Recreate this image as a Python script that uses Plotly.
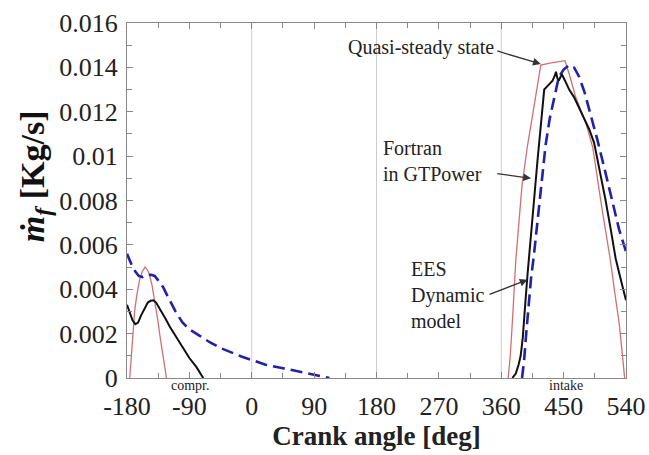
import plotly.graph_objects as go

# ---------------- data ----------------
qs_comp_x = [-176, -174, -172, -169, -166, -162, -158, -154, -151, -148, -144, -140, -136, -132, -128, -125, -123]
qs_comp_y = [0, 0.001, 0.002, 0.003, 0.0037, 0.0044, 0.0048, 0.0050, 0.0049, 0.0047, 0.0042, 0.0035, 0.0027, 0.0018, 0.0009, 0.0003, 0]
qs_int_x = [370, 373, 376, 381, 390, 398, 405, 417, 432, 452, 460, 467, 482, 492, 505, 517, 524, 530, 535, 538]
qs_int_y = [0, 0.001, 0.0025, 0.0053, 0.0087, 0.0105, 0.0118, 0.0141, 0.0142, 0.0143, 0.0135, 0.0127, 0.0115, 0.0104, 0.0077, 0.0054, 0.0038, 0.0025, 0.0010, 0]

ff_comp_x = [-180, -176, -172, -168, -164, -160, -155, -150, -146, -142, -138, -132, -125, -118, -110, -100, -90, -80, -75, -70]
ff_comp_y = [0.0033, 0.0029, 0.0026, 0.00243, 0.0025, 0.0028, 0.0031, 0.0034, 0.00348, 0.0035, 0.0034, 0.0031, 0.0027, 0.0023, 0.0019, 0.0014, 0.0009, 0.0005, 0.00025, 0]
ff_int_x = [376, 381, 385, 388, 391, 393, 395, 398, 402, 407, 412, 417, 422, 428, 434, 437, 439, 441, 443, 446, 448, 452, 458, 465, 472, 480, 487, 494, 502, 510, 518, 525, 532, 540]
ff_int_y = [0, 0.0002, 0.0006, 0.001, 0.0018, 0.0025, 0.0035, 0.0047, 0.0060, 0.0079, 0.0097, 0.0114, 0.0130, 0.0132, 0.0134, 0.0136, 0.0138, 0.0135, 0.0134, 0.0136, 0.01365, 0.0134, 0.0130, 0.01266, 0.0122, 0.0117, 0.0112, 0.0106, 0.0094, 0.0081, 0.0067, 0.0054, 0.0045, 0.0035]

ees_comp_x = [-180, -176, -172, -168, -163, -158, -154, -150, -145, -140, -135, -128, -120, -110, -100, -90, -75, -60, -45, -30, -15, 0, 20, 45, 70, 93, 105, 112]
ees_comp_y = [0.0056, 0.0053, 0.0050, 0.0048, 0.0046, 0.00455, 0.0046, 0.00465, 0.00465, 0.0046, 0.0044, 0.0041, 0.0036, 0.0030, 0.0025, 0.0022, 0.0019, 0.0016, 0.00135, 0.00115, 0.00097, 0.00081, 0.0006, 0.00044, 0.00028, 0.00014, 0.00005, 0]
ees_int_x = [390, 393, 396, 400, 403, 407, 412, 418, 424, 430, 436, 443, 450, 458, 465, 472, 480, 490, 499, 510, 520, 530, 540]
ees_int_y = [0, 0.0008, 0.002, 0.0035, 0.0045, 0.0055, 0.0070, 0.0088, 0.0105, 0.0117, 0.0126, 0.01356, 0.0139, 0.0141, 0.0140, 0.0136, 0.0129, 0.0118, 0.0107, 0.0093, 0.0080, 0.0067, 0.0057]

x_ticks = [-180, -90, 0, 90, 180, 270, 360, 450, 540]
x_tick_text = ["-180", "-90", "0", "90", "180", "270", "360", "450", "540"]
y_ticks = [0, 0.002, 0.004, 0.006, 0.008, 0.01, 0.012, 0.014, 0.016]
y_tick_text = ["0", "0.002", "0.004", "0.006", "0.008", "0.01", "0.012", "0.014", "0.016"]
grid_x = [0, 180, 360]
phase_labels = ["compr.", "intake"]
phase_label_x = [-89, 453]

FONT = "Liberation Serif"
RED = "#d27070"
BLK = "#111111"
BLU = "#2222a8"

fig = go.Figure()
for xs, ys in [(qs_comp_x, qs_comp_y), (qs_int_x, qs_int_y)]:
    fig.add_trace(go.Scatter(x=xs, y=ys, mode="lines", line=dict(color=RED, width=1.3), showlegend=False))
for xs, ys in [(ees_comp_x, ees_comp_y), (ees_int_x, ees_int_y)]:
    fig.add_trace(go.Scatter(x=xs, y=ys, mode="lines", line=dict(color=BLU, width=2.6, dash="12px,6px"), showlegend=False))
for xs, ys in [(ff_comp_x, ff_comp_y), (ff_int_x, ff_int_y)]:
    fig.add_trace(go.Scatter(x=xs, y=ys, mode="lines", line=dict(color=BLK, width=2), showlegend=False))

for gx in grid_x:
    fig.add_shape(type="line", xref="x", yref="paper", x0=gx, x1=gx, y0=0, y1=1,
                  line=dict(color="#cccccc", width=1), layer="below")

axis_common = dict(showline=True, linecolor="#888888", linewidth=1.2, mirror="ticks",
                   ticks="inside", ticklen=6, tickcolor="#888888", showgrid=False, zeroline=False,
                   automargin=False,
                   tickfont=dict(family=FONT, size=26, color="#222222"))

fig.update_xaxes(range=[-180, 540], tickvals=x_ticks, ticktext=x_tick_text, ticklabelstandoff=5,
                 minor=dict(dtick=45, tick0=-180, ticks="inside", ticklen=5, tickcolor="#888888"),
                 title=dict(text="<b>Crank angle [deg]</b>", font=dict(family=FONT, size=27, color="#222222"), standoff=1),
                 **axis_common)
fig.update_yaxes(range=[0, 0.016], tickvals=y_ticks, ticktext=y_tick_text, ticklabelstandoff=3,
                 minor=dict(dtick=0.001, tick0=0, ticks="inside", ticklen=5, tickcolor="#888888"),
                 **axis_common)

ann_font = dict(family=FONT, size=20, color="#222222")
small_font = dict(family=FONT, size=14, color="#222222")
annotations = [
    dict(x=353, y=0.0149, text="Quasi-steady state", showarrow=False, xanchor="right", yanchor="middle", font=ann_font),
    dict(x=186, y=0.00977, text="Fortran<br>in GTPower", showarrow=False, xanchor="left", yanchor="middle", align="left", font=ann_font),
    dict(x=227, y=0.00374, text="EES<br>Dynamic<br>model", showarrow=False, xanchor="left", yanchor="middle", align="left", font=ann_font),
    dict(xref="paper", yref="paper", x=-0.184, y=0.569, xanchor="center", yanchor="middle",
         text="<b><i>ṁ<sub>f</sub></i> [Kg/s]</b>", textangle=-90,
         showarrow=False, font=dict(family=FONT, size=34, color="#111111")),
]
for lbl, lx in zip(phase_labels, phase_label_x):
    annotations.append(dict(x=lx, xref="x", y=-0.022, yref="paper", text=lbl, showarrow=False,
                            xanchor="center", yanchor="middle", font=small_font))
arrows = [
    ((352, 0.01476), (417, 0.01415)),
    ((352, 0.00922), (403, 0.0090)),
    ((341, 0.00374), (398, 0.00443)),
]
for (tx, ty), (hx, hy) in arrows:
    annotations.append(dict(x=hx, y=hy, ax=tx, ay=ty, axref="x", ayref="y", text="", showarrow=True,
                            arrowhead=2, arrowsize=1.2, arrowwidth=1.3, arrowcolor="#333333", standoff=0))

fig.update_layout(width=649, height=455, margin=dict(l=127, r=23, t=23, b=77),
                  plot_bgcolor="white", paper_bgcolor="white", annotations=annotations,
                  font=dict(family=FONT))
fig.write_html("out.html")
